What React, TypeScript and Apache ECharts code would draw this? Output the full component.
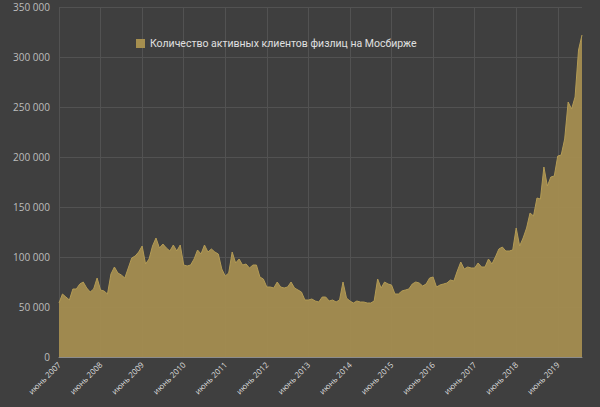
import React, { useEffect, useRef } from "react";
import * as echarts from "echarts";

const monthNames = ["январь", "февраль", "март", "апрель", "май", "июнь", "июль", "август", "сентябрь", "октябрь", "ноябрь", "декабрь"];

// Monthly data, June 2007 – November 2019
const startYear = 2007;
const startMonth = 5; // June (0-based)

const clients2007_2009 = [54, 63, 60, 57, 68, 68, 73, 75, 69, 65, 68, 79, 67, 66, 63, 83, 90, 84, 82, 79, 89, 99, 101, 105];
const clients2009_2011 = [111, 93, 98, 111, 119, 109, 113, 109, 106, 112, 106, 112, 92, 91, 92, 98, 107, 103, 112, 105, 108, 105, 103, 88];
const clients2011_2013 = [81, 84, 105, 94, 98, 92, 93, 89, 92, 92, 80, 78, 70, 70, 69, 75, 70, 69, 70, 75, 69, 67, 65, 57];
const clients2013_2015 = [57, 58, 56, 55, 60, 60, 56, 57, 55, 57, 75, 59, 56, 54, 56, 55, 55, 54, 54, 56, 78, 69, 75, 73];
const clients2015_2017 = [72, 63, 63, 66, 67, 68, 73, 75, 74, 71, 73, 79, 80, 70, 72, 73, 74, 77, 76, 86, 95, 88, 90, 89];
const clients2017_2019 = [89, 94, 90, 90, 98, 93, 100, 108, 110, 106, 106, 107, 129, 111, 119, 129, 144, 141, 159, 158, 190, 171, 180, 181];
const clients2019 = [201, 202, 218, 255, 248, 260, 307, 322];

const thousands = [
  ...clients2007_2009,
  ...clients2009_2011,
  ...clients2011_2013,
  ...clients2013_2015,
  ...clients2015_2017,
  ...clients2017_2019,
  ...clients2019,
];
const values = thousands.map((v) => v * 1000);

const categories = values.map((_, i) => {
  const m = (startMonth + i) % 12;
  const y = startYear + Math.floor((startMonth + i) / 12);
  return `${monthNames[m]} ${y}`;
});

const seriesName = "Количество активных клиентов физлиц на Мосбирже";

const fmt = (v: number) => String(v).replace(/\B(?=(\d{3})+(?!\d))/g, " ");

export default function App() {
  const ref = useRef<HTMLDivElement>(null);
  useEffect(() => {
    if (!ref.current) return;
    const chart = echarts.init(ref.current, undefined, { renderer: "svg" });
    chart.setOption({
      animation: false,
      backgroundColor: "#3f3f3f",
      textStyle: { fontFamily: "'Open Sans', 'Noto Sans', sans-serif" },
      legend: {
        left: 131,
        top: 33,
        icon: "rect",
        itemWidth: 9,
        itemHeight: 9,
        itemGap: 4,
        textStyle: { color: "#e0e0e0", fontSize: 10.5, fontFamily: "Roboto, 'Noto Sans', sans-serif" },
        data: [seriesName],
      },
      grid: { left: 59, right: 18, top: 7, bottom: 50, containLabel: false },
      xAxis: {
        type: "category",
        data: categories,
        boundaryGap: false,
        axisLine: { show: true, lineStyle: { color: "#8c8c8c", width: 1 } },
        axisTick: { show: false, interval: 11 },
        axisLabel: {
          interval: 11,
          rotate: 45,
          color: "#dcdcdc",
          fontSize: 8,
          margin: 6,
        },
        splitLine: { show: true, interval: 11, lineStyle: { color: "#525252", width: 1 } },
      },
      yAxis: {
        type: "value",
        min: 0,
        max: 350000,
        interval: 50000,
        axisLine: { show: false },
        axisTick: { show: false },
        axisLabel: { color: "#bdbdbd", fontSize: 10, margin: 9, formatter: (v: number) => fmt(v) },
        splitLine: { show: true, lineStyle: { color: "#525252", width: 1 } },
      },
      series: [
        {
          name: seriesName,
          type: "line",
          data: values,
          symbol: "none",
          color: "#a68f4f",
          lineStyle: { color: "#b39b55", width: 1 },
          areaStyle: { color: "#a38d50", opacity: 0.96 },
        },
      ],
    });
    return () => chart.dispose();
  }, []);
  return <div ref={ref} style={{ position: "fixed", left: 0, top: 0, width: 600, height: 407 }} />;
}
